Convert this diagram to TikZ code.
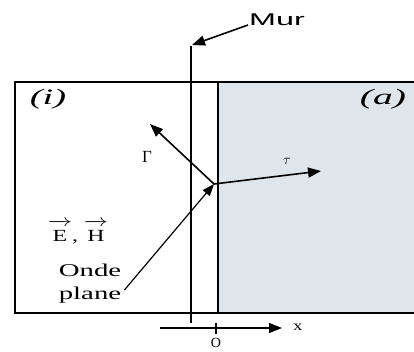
\documentclass[tikz,border=0pt]{standalone}
\usepackage{fontspec}
\setmainfont{Liberation Serif}
\newfontfamily\murfont{Liberation Sans}
\usepackage{xcolor}
\usepackage{graphicx}
\usetikzlibrary{arrows.meta,positioning}
\definecolor{milieu}{RGB}{222,229,235}
\newcommand\wide[2][1.6]{\scalebox{#1}[1]{#2}}
\newcommand\vecteur[1]{\overrightarrow{\mathrm{#1}\rule{0pt}{16pt}}}
\begin{document}
\begin{tikzpicture}[
  x=1pt, y=-1pt,
  wall/.style={line width=2pt},
  arr/.style={-{Triangle[length=13pt,width=10pt]}, line width=1.6pt},
  lbl/.style={inner sep=0pt, font=\fontsize{17}{19}\selectfont}
]
\useasboundingbox (0,0) rectangle (414,352);
% milieu (a)
\fill[milieu] (218,82) rectangle (414,313);
\draw[wall] (414,82) -- (15,82) -- (15,313) -- (414,313);
\draw[wall] (218,82) -- (218,313);
\coordinate (walltop) at (191,46);
\coordinate (wallbot) at (191,323);
\draw[wall] (walltop) -- (wallbot);

\node[lbl, font=\murfont\fontsize{17}{19}\selectfont] (mur) at (277,20) {\wide[1.9]{Mur}};
\draw[arr] ([shift={(-1pt,-5pt)}]mur.west) -- ([shift={(1pt,1pt)}]walltop);

\node[lbl, font=\fontsize{22}{24}\selectfont\itshape] (mi) at (48,99) {\wide[1.75]{(i)}};
\node[lbl, font=\fontsize{22}{24}\selectfont\itshape] (ma) at (383,99) {\wide[1.8]{(a)}};

\coordinate (hit) at (214,184);
\coordinate (refl) at (150,124);
\coordinate (trans) at (321,171);
\draw[arr] (hit) -- (refl);
\draw[arr] (hit) -- (trans);
\node[lbl, font=\fontsize{17}{19}\selectfont] (gam) at (147,157) {Γ};
\node[lbl, font=\fontsize{15}{17}\selectfont] (tau) at (287,161) {$\tau$};

\node[lbl, font=\fontsize{17}{19}\selectfont] (eh) at (78,232) {\wide[1.4]{$\vecteur{E}$, $\vecteur{H}$}};
\node[lbl, align=center, font=\fontsize{18}{23}\selectfont] (onde) at (90,284) {\wide{Onde}\\\wide{plane}};
\draw[arr, line width=1.2pt, -{Triangle[length=12pt,width=9pt]}] ([shift={(3pt,-6pt)}]onde.east) -- (hit);

% axe x
\coordinate (x0) at (160,328);
\coordinate (x1) at (282,328);
\draw[arr, line width=1.2pt] (x0) -- (x1);
\coordinate (o) at (216,328);
\draw[line width=2.2pt] ([yshift=-6pt]o) -- ([yshift=5pt]o);
\node[lbl, font=\fontsize{14}{16}\selectfont] (xl) at (298,327) {\wide[1.3]{x}};
\node[lbl, font=\fontsize{14}{16}\selectfont] (ol) at (216,343) {O};
\end{tikzpicture}
\end{document}
